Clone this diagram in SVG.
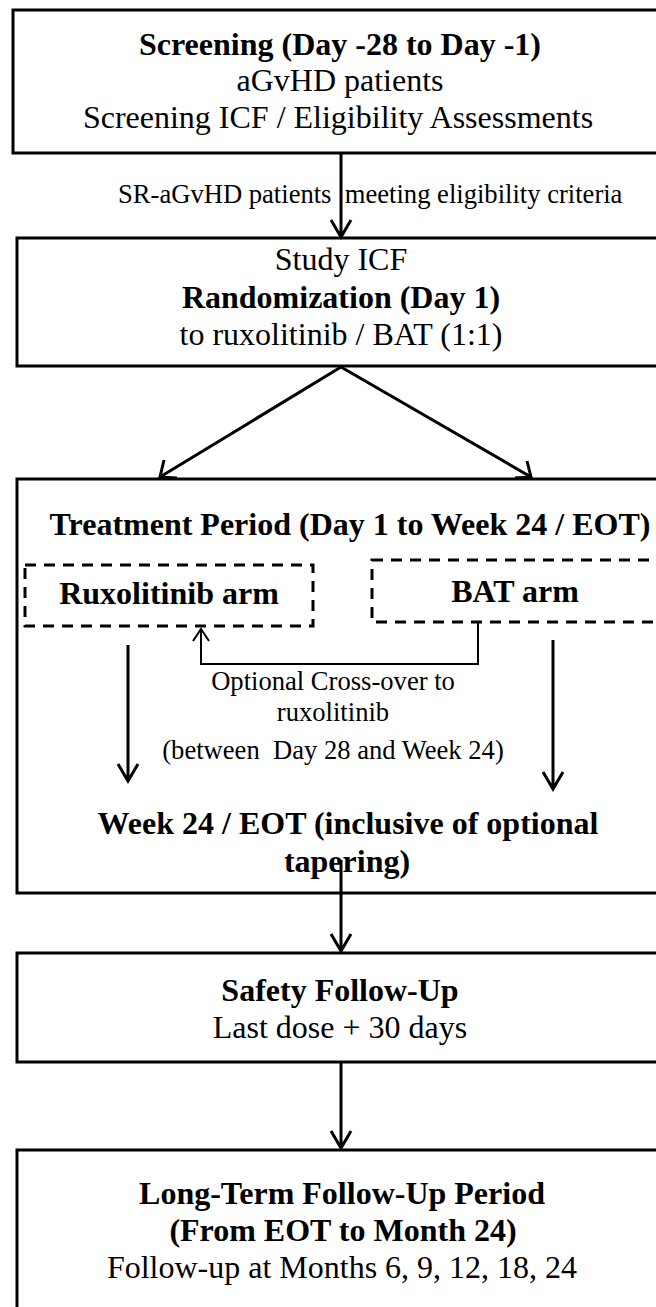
<svg xmlns="http://www.w3.org/2000/svg" width="656" height="1307" viewBox="0 0 656 1307">
<defs>
<style>
.box{fill:#fff;stroke:#000;stroke-width:3}
.dash{fill:none;stroke:#000;stroke-width:3;stroke-dasharray:11 8}
.ln{fill:none;stroke:#000;stroke-width:3}
.thin{fill:none;stroke:#000;stroke-width:2}
text{font-family:"Liberation Serif","Times New Roman",serif;fill:#000;text-anchor:middle}
.b{font-weight:bold;font-size:32px}
.r{font-size:32px}
.s{font-size:26.6px}
</style>
</defs>
<rect width="656" height="1307" fill="#fff"/>
<g id="screening">
<rect class="box" x="13" y="10" width="660" height="143"/>
<text class="b" x="340" y="55">Screening (Day -28 to Day -1)</text>
<text class="r" x="340" y="91">aGvHD patients</text>
<text class="r" x="338" y="128">Screening ICF / Eligibility Assessments</text>
</g>
<g id="randomization">
<rect class="box" x="17" y="238" width="660" height="128"/>
<text class="r" x="341" y="270">Study ICF</text>
<text class="b" x="341" y="308">Randomization (Day 1)</text>
<text class="r" x="341" y="345">to ruxolitinib / BAT (1:1)</text>
</g>
<g id="treatment">
<rect class="box" x="17" y="479" width="660" height="414"/>
<text class="b" x="350" y="535">Treatment Period (Day 1 to Week 24 / EOT)</text>
<text class="b" x="348" y="834">Week 24 / EOT (inclusive of optional</text>
<text class="b" x="347" y="872">tapering)</text>
</g>
<g id="rux-arm">
<rect class="dash" x="25" y="565" width="288" height="61"/>
<text class="b" x="169" y="604">Ruxolitinib arm</text>
</g>
<g id="bat-arm">
<rect class="dash" x="372" y="560" width="290" height="62"/>
<text class="b" x="515" y="602">BAT arm</text>
</g>
<g id="safety">
<rect class="box" x="17" y="953" width="660" height="109"/>
<text class="b" x="340" y="1001">Safety Follow-Up</text>
<text class="r" x="340" y="1038">Last dose + 30 days</text>
</g>
<g id="long-term">
<rect class="box" x="17" y="1150" width="660" height="180"/>
<text class="b" x="342" y="1204">Long-Term Follow-Up Period</text>
<text class="b" x="343" y="1241">(From EOT to Month 24)</text>
<text class="r" x="342" y="1278">Follow-up at Months 6, 9, 12, 18, 24</text>
</g>
<g id="connectors">
<path class="ln" d="M341 153V237M331 220L341 237L351 220"/>
<text class="s" x="118" y="203" style="text-anchor:start" xml:space="preserve">SR-aGvHD patients  meeting eligibility criteria</text>
<path class="ln" d="M341 367L160 477M164 460L160 477L177 478"/>
<path class="ln" d="M341 367L531 477M515 478L531 477L527 461"/>
<path class="thin" d="M478 622V664H201V629M193 641L201 629L209 641"/>
<text class="s" x="333" y="690">Optional Cross-over to</text>
<text class="s" x="333" y="721">ruxolitinib</text>
<text class="s" x="333" y="759" xml:space="preserve">(between  Day 28 and Week 24)</text>
<path class="ln" d="M128 645V781M118 764L128 781L138 764"/>
<path class="ln" d="M553 640V789M543 772L553 789L563 772"/>
<path class="ln" d="M341 860V951M331 934L341 951L351 934"/>
<path class="ln" d="M341 1062V1148M331 1131L341 1148L351 1131"/>
</g>
</svg>
